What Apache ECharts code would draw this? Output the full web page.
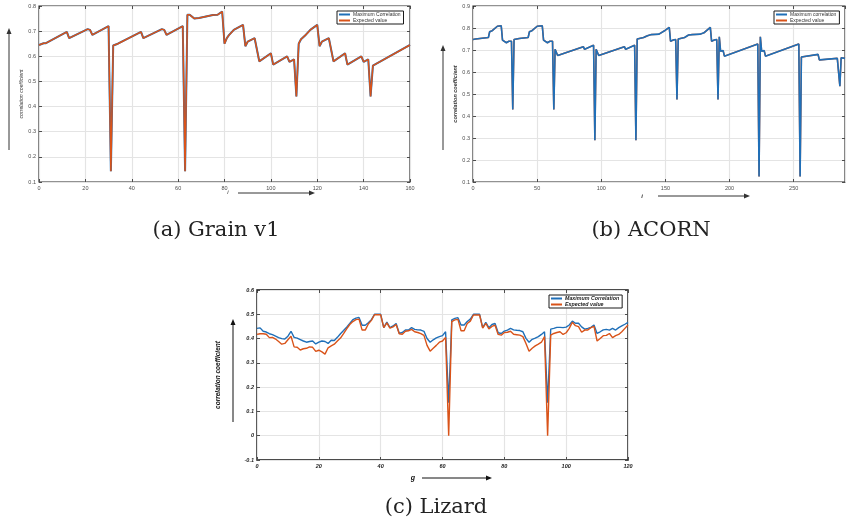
<!DOCTYPE html>
<html><head><meta charset="utf-8">
<script src="https://cdn.jsdelivr.net/npm/echarts@6/dist/echarts.min.js"></script>
<style>html,body{margin:0;padding:0;background:#fff}#c{width:849px;height:523px}</style>
</head><body><div id="c"></div>
<script>
// ---------- (a) Grain v1 ----------
const grainI = [0,2,3,12,13,21,22,23,30,31,32,34,44,45,53,54,55,62,63,64,65,67,69,72,75,77,79,80,81,82,84,88,89,90,93,95,100,101,107,108,110,111,112,113,115,117,120,121,122,125,127,132,133,139,140,142,143,144,160];
const grainMax = [0.645,0.652,0.652,0.697,0.672,0.708,0.705,0.685,0.720,0.143,
0.643,0.650,0.697,0.672,0.708,0.705,0.685,0.720,0.143,0.765,
0.765,0.750,0.752,0.758,0.764,0.765,0.778,0.650,0.672,0.685,
0.705,0.725,0.640,0.658,0.672,0.580,0.612,0.567,0.600,0.578,
0.588,0.440,0.650,0.668,0.685,0.705,0.725,0.640,0.658,0.672,
0.580,0.612,0.567,0.600,0.578,0.588,0.440,0.563,0.645];
const grainExp = [0.645,0.652,0.652,0.697,0.672,0.708,0.705,0.685,0.720,0.143,
0.643,0.650,0.697,0.672,0.708,0.705,0.685,0.720,0.143,0.765,
0.765,0.750,0.752,0.758,0.764,0.765,0.778,0.650,0.672,0.685,
0.705,0.725,0.640,0.658,0.672,0.580,0.612,0.567,0.600,0.578,
0.588,0.440,0.650,0.668,0.685,0.705,0.725,0.640,0.658,0.672,
0.580,0.612,0.567,0.600,0.578,0.588,0.440,0.563,0.645];

// ---------- (b) ACORN ----------
const acornI = [0,2,3,12,13,15,19,22,23,24,26,28,30,31,
32,36,37,43,44,46,50,54,55,56,58,60,62,63,
64,65,66,86,87,94,95,
96,97,98,118,119,126,127,
128,133,136,139,145,150,153,154,156,158,159,
160,165,168,171,177,180,185,186,188,190,191,
192,193,195,196,222,223,
224,225,227,228,254,255,
256,257,269,270,284,285,286,287,290];
const acornMax = [0.748,0.750,0.757,0.757,0.783,0.788,0.808,0.810,0.745,0.740,0.733,0.740,0.740,0.430,
0.748,0.752,0.757,0.757,0.783,0.788,0.808,0.810,0.745,0.740,0.733,0.740,0.740,0.430,
0.703,0.695,0.675,0.715,0.703,0.722,0.290,
0.703,0.695,0.675,0.715,0.703,0.722,0.290,
0.750,0.757,0.765,0.770,0.772,0.790,0.803,0.740,0.745,0.748,0.475,
0.750,0.757,0.768,0.770,0.772,0.778,0.803,0.740,0.745,0.748,0.475,
0.760,0.695,0.697,0.672,0.727,0.125,
0.760,0.695,0.697,0.672,0.727,0.125,
0.668,0.662,0.680,0.655,0.662,0.662,0.535,0.665,0.662];
const acornExp = [0.748,0.750,0.757,0.757,0.783,0.788,0.808,0.810,0.745,0.740,0.733,0.740,0.740,0.430,
0.748,0.752,0.757,0.757,0.783,0.788,0.808,0.810,0.745,0.740,0.733,0.740,0.740,0.430,
0.703,0.695,0.675,0.715,0.703,0.722,0.290,
0.703,0.695,0.675,0.715,0.703,0.722,0.290,
0.750,0.757,0.765,0.770,0.772,0.790,0.803,0.740,0.745,0.748,0.475,
0.750,0.757,0.768,0.770,0.772,0.778,0.803,0.740,0.745,0.748,0.475,
0.760,0.695,0.697,0.672,0.727,0.125,
0.760,0.695,0.697,0.672,0.727,0.125,
0.668,0.662,0.680,0.655,0.662,0.662,0.535,0.665,0.662];

// ---------- (c) Lizard (g = 0..120) ----------
const lizardMax = [0.442,0.444,0.430,0.427,0.420,0.416,0.410,0.404,0.400,0.398,
0.410,0.430,0.405,0.402,0.396,0.390,0.385,0.388,0.390,0.378,
0.385,0.390,0.388,0.380,0.393,0.392,0.405,0.420,0.433,0.447,
0.462,0.478,0.484,0.487,0.455,0.455,0.465,0.478,0.500,0.500,
0.500,0.445,0.468,0.445,0.452,0.462,0.422,0.425,0.435,0.435,
0.445,0.438,0.436,0.435,0.430,0.400,0.385,0.395,0.403,0.408,
0.412,0.428,0.136,0.477,0.483,0.486,0.456,0.456,0.470,0.480,
0.500,0.500,0.500,0.445,0.467,0.445,0.458,0.462,0.424,0.421,
0.431,0.435,0.442,0.436,0.434,0.433,0.428,0.401,0.385,0.397,
0.402,0.408,0.417,0.428,0.136,0.439,0.442,0.446,0.446,0.445,
0.447,0.456,0.472,0.463,0.463,0.448,0.439,0.442,0.446,0.456,
0.421,0.428,0.436,0.438,0.435,0.442,0.435,0.445,0.452,0.459,
0.467];
const lizardExp = [0.417,0.420,0.420,0.418,0.404,0.405,0.398,0.388,0.377,0.380,
0.395,0.410,0.366,0.364,0.353,0.358,0.360,0.366,0.364,0.347,
0.352,0.345,0.336,0.362,0.370,0.377,0.390,0.402,0.420,0.440,
0.458,0.470,0.478,0.480,0.435,0.435,0.460,0.475,0.498,0.498,
0.498,0.445,0.465,0.443,0.448,0.458,0.420,0.418,0.430,0.432,
0.438,0.428,0.425,0.420,0.413,0.372,0.348,0.360,0.372,0.385,
0.390,0.405,0.000,0.470,0.477,0.479,0.432,0.432,0.462,0.472,
0.497,0.497,0.497,0.443,0.463,0.440,0.450,0.455,0.417,0.414,
0.425,0.426,0.430,0.418,0.416,0.414,0.408,0.380,0.348,0.360,
0.370,0.377,0.385,0.408,0.000,0.414,0.421,0.425,0.428,0.417,
0.424,0.442,0.467,0.453,0.449,0.426,0.435,0.435,0.445,0.450,
0.390,0.400,0.412,0.413,0.421,0.404,0.412,0.417,0.428,0.442,
0.456];

const BLUE = '#1f6fb8', ORANGE = '#d95319';
const pairs = (xs, ys) => ys.map((v, k) => [xs[k], v]);
const idxPairs = ys => ys.map((v, k) => [k, v]);
const fmt1 = v => String(Math.round(v * 10) / 10);
const fmt0 = v => String(Math.round(v));

function axesFor(g, xr, yr, lab) {
  const tick = {show: true, inside: true, length: 3, lineStyle: {color: '#262626', width: 0.8}};
  const split = {show: true, lineStyle: {color: '#e4e4e4', width: 1.2}};
  const noLine = {show: false, onZero: false};
  const xs = [
    {type: 'value', gridIndex: g, min: xr[0], max: xr[1], interval: xr[2],
     axisLine: noLine, axisTick: tick, splitLine: split,
     axisLabel: Object.assign({margin: 3, formatter: fmt0, showMaxLabel: xr[3]}, lab)},
    {type: 'value', gridIndex: g, position: 'top', min: xr[0], max: xr[1], interval: xr[2],
     axisLine: noLine, axisTick: tick, splitLine: {show: false}, axisLabel: {show: false}}
  ];
  const ys = [
    {type: 'value', gridIndex: g, min: yr[0], max: yr[1], interval: yr[2],
     axisLine: noLine, axisTick: tick, splitLine: split,
     axisLabel: Object.assign({margin: 3, formatter: fmt1}, lab),
     name: 'correlation coefficient', nameLocation: 'middle', nameRotate: 90, nameGap: yr[3], nameTextStyle: yr[4]},
    {type: 'value', gridIndex: g, position: 'right', min: yr[0], max: yr[1], interval: yr[2],
     axisLine: noLine, axisTick: tick, splitLine: {show: false}, axisLabel: {show: false}}
  ];
  return {xs, ys};
}

const labAB = {fontSize: 5.5, color: '#4d4d4d', fontFamily: 'Liberation Sans'};
const labC = {fontSize: 5.5, color: '#222', fontFamily: 'Liberation Sans', fontWeight: 'bold', fontStyle: 'italic'};
const A = axesFor(0, [0, 160, 20, true], [0.1, 0.8, 0.1, 13, {fontSize: 5.2, fontStyle: 'italic', color: '#333', fontFamily: 'Liberation Sans'}], labAB);
const B = axesFor(1, [0, 290, 50, false], [0.1, 0.9, 0.1, 11, {fontSize: 5.5, fontStyle: 'italic', fontWeight: 'bold', color: '#333', fontFamily: 'Liberation Sans'}], labAB);
const C = axesFor(2, [0, 120, 20, true], [-0.1, 0.6, 0.1, 35, {fontSize: 6.5, fontStyle: 'italic', fontWeight: 'bold', color: '#111', fontFamily: 'Liberation Sans'}], labC);

const xAxis = [...A.xs, ...B.xs, ...C.xs];
const yAxis = [...A.ys, ...B.ys, ...C.ys];

function line(name, data, xi, yi, color, w) {
  return {type: 'line', name, data, xAxisIndex: xi, yAxisIndex: yi, showSymbol: false, symbol: 'none',
    lineStyle: {color, width: w}, itemStyle: {color}, animation: false};
}

const series = [
  line('Maximum Correlation', pairs(grainI, grainMax), 0, 0, BLUE, 2),
  line('Expected value', pairs(grainI, grainExp), 0, 0, ORANGE, 1.5),
  line('Expected value', pairs(acornI, acornExp), 2, 2, ORANGE, 1.5),
  line('Maximum correlation', pairs(acornI, acornMax), 2, 2, BLUE, 1.6),
  line('Maximum Correlation', idxPairs(lizardMax), 4, 4, BLUE, 1.4),
  line('Expected value', idxPairs(lizardExp), 4, 4, ORANGE, 1.4)
];

function legendAt(left, top, names, ts) {
  return {left, top, orient: 'vertical', data: names, icon: 'rect', itemWidth: 11, itemHeight: 2,
    itemGap: 1, padding: [1, 3, 1, 2], borderColor: '#1a1a1a', borderWidth: 1, backgroundColor: '#fff',
    selectedMode: false, textStyle: Object.assign({padding: [0, 0, 0, -2]}, ts)};
}
const legend = [
  legendAt(337, 11, ['Maximum Correlation', 'Expected value'], {fontSize: 5, color: '#333', fontFamily: 'Liberation Sans'}),
  legendAt(774, 11, ['Maximum correlation', 'Expected value'], {fontSize: 5, color: '#333', fontFamily: 'Liberation Sans'}),
  legendAt(549, 295, ['Maximum Correlation', 'Expected value'], {fontSize: 5.3, color: '#222', fontFamily: 'Liberation Sans', fontWeight: 'bold', fontStyle: 'italic'})
];

function arrow(x1, y1, x2, y2, color) {
  const dx = x2 - x1, dy = y2 - y1, L = Math.hypot(dx, dy), ux = dx / L, uy = dy / L;
  const hl = 6, hw = 2.5, bx = x2 - ux * hl, by = y2 - uy * hl;
  return [
    {type: 'line', shape: {x1, y1, x2: bx, y2: by}, style: {stroke: color, lineWidth: 1}},
    {type: 'polygon', shape: {points: [[x2, y2], [bx - uy * hw, by + ux * hw], [bx + uy * hw, by - ux * hw]]}, style: {fill: color}}
  ];
}
function txt(x, y, text, font, fill, align) {
  return {type: 'text', x, y, style: {text, font, fill: fill || '#000', textAlign: align || 'center', textVerticalAlign: 'middle'}};
}
const TF = '21px "DejaVu Serif"';
const graphic = [
  ...arrow(9, 150, 9, 28, '#333'),
  ...arrow(238, 193, 315, 193, '#333'),
  ...arrow(443, 150, 443, 45, '#333'),
  ...arrow(658, 196, 750, 196, '#333'),
  ...arrow(233, 422, 233, 319, '#111'),
  ...arrow(422, 478, 492, 478, '#111'),
  txt(228, 192, 'i', 'italic 6px "Liberation Sans"', '#333'),
  txt(642, 196, 'i', 'italic bold 6px "Liberation Sans"', '#333'),
  txt(413, 478, 'g', 'italic bold 7px "Liberation Sans"', '#111'),
  txt(216, 231, '(a) Grain v1', TF, '#222'),
  txt(651, 231, '(b) ACORN', TF, '#222'),
  txt(436, 508, '(c) Lizard', TF, '#222')
];

const grid = [
  {left: 39, top: 6, width: 371, height: 176, show: true, borderColor: '#262626', borderWidth: 1.2, backgroundColor: '#fff'},
  {left: 473, top: 6, width: 372, height: 176, show: true, borderColor: '#262626', borderWidth: 1.2, backgroundColor: '#fff'},
  {left: 257, top: 290, width: 371, height: 170, show: true, borderColor: '#111', borderWidth: 1.5, backgroundColor: '#fff'}
];

const chart = echarts.init(document.getElementById('c'), null, {renderer: 'canvas'});
chart.setOption({animation: false, backgroundColor: '#fff', grid, xAxis, yAxis, series, legend, graphic});
</script></body></html>
